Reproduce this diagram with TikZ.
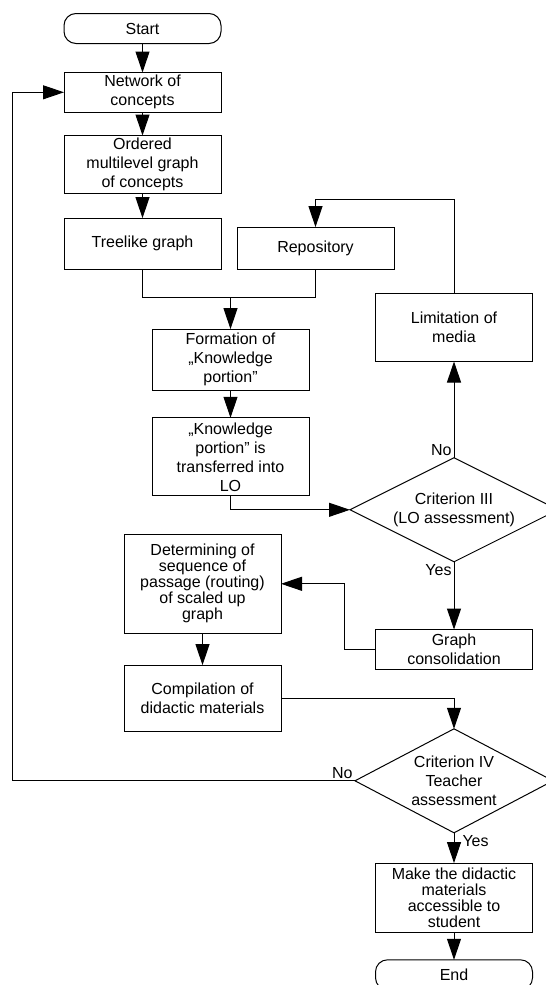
\documentclass[tikz,border=0pt]{standalone}
\usepackage{fontspec}
\setmainfont{Liberation Sans}
\usetikzlibrary{shapes.geometric, arrows.meta, positioning}

\begin{document}
\begin{tikzpicture}[
                x=1pt, y=1pt,
                node distance=25pt,
                box/.style={rectangle, draw=black, line width=1pt, minimum width=157pt, inner sep=1pt, outer sep=0pt, align=center, font=\fontsize{16}{19}\selectfont},
                tight/.style={font=\fontsize{16}{16}\selectfont},
                term/.style={box, rounded corners=12pt, minimum height=30pt},
                decision/.style={diamond, draw=black, line width=1pt, aspect=2, inner sep=0pt, outer sep=0pt, minimum height=104pt, align=center, font=\fontsize{16}{19}\selectfont},
                arrow/.style={-{Triangle[length=21pt, width=14pt]}, line width=1pt},
                tag/.style={inner sep=2pt, font=\fontsize{16}{19}\selectfont}
            ]
                \useasboundingbox (0,0) rectangle (546,-985);
                \clip (0,0) rectangle (546,-985);

                \node[term] (start) at (142.5,-28.5) {Start};
                \node[box, minimum height=39.6pt, below=29pt of start] (p1) {Network of\\concepts};
                \node[box, minimum height=57.6pt, below=23.4pt of p1] (p2) {Ordered\\multilevel graph\\of concepts};
                \node[box, minimum height=51pt, below=25pt of p2] (p3) {Treelike graph};
                \node[box, minimum height=42pt, right=16pt of p3.south east, anchor=south west] (p4) {Repository};
                \node[box, minimum height=61.4pt, below=60pt of p3, xshift=88pt] (p5) {Formation of\\„Knowledge\\portion"};
                \node[box, minimum height=78pt, below=27.3pt of p5] (p6) {„Knowledge\\portion" is\\transferred into\\LO};
                \node[decision, minimum width=208pt, right=41pt of p6.south east, anchor=west, yshift=-14pt] (d1) {Criterion III\\(LO assessment)};
                \node[box, minimum height=68.4pt, above=96.3pt of d1] (p7) {Limitation of\\media};
                \node[box, tight, minimum height=98.6pt, below=38.7pt of p6, xshift=-28pt] (p8) {Determining of\\sequence of\\passage (routing)\\of scaled up\\graph};
                \node[box, minimum height=39.6pt, below=67.7pt of d1] (p9) {Graph\\consolidation};
                \node[box, minimum height=66.7pt, below=32pt of p8] (p10) {Compilation of\\didactic materials};
                \node[decision, minimum width=198pt, below=59.7pt of p9] (d2) {Criterion IV\\Teacher\\assessment};
                \node[box, tight, minimum height=69.4pt, below=30.3pt of d2] (p11) {Make the didactic\\materials\\accessible to\\student};
                \node[term, below=27.3pt of p11] (stop) {End};

                \coordinate[above=32pt of p5.north] (j);
                \coordinate[above=28pt of p4.north] (r);

                \draw[arrow] (start) -- (p1);
                \draw[arrow] (p1) -- (p2);
                \draw[arrow] (p2) -- (p3);
                \draw[line width=1pt] (p3.south) |- (j) -| (p4.south);
                \draw[arrow] (j) -- (p5);
                \draw[arrow] (p5) -- (p6);
                \draw[arrow] (p6.south) |- (d1.west);
                \draw[arrow] (d1.north) -- node[tag, pos=0, anchor=south east] {No} (p7.south);
                \draw[arrow] (p7.north) |- (r) -- (p4.north);
                \draw[arrow] (d1.south) -- node[tag, pos=0, anchor=north east] {Yes} (p9.north);
                \draw[arrow] (p9.west) -- ++(-30.8,0) |- (p8.east);
                \draw[arrow] (p8) -- (p10);
                \draw[arrow] (p10.east) -| (d2.north);
                \draw[arrow] (d2.west) -- node[tag, pos=0, anchor=south east] {No} ++(-342.5,0) |- (p1.west);
                \draw[arrow] (d2.south) -- node[tag, pos=0, anchor=north west, xshift=6pt] {Yes} (p11.north);
                \draw[arrow] (p11) -- (stop);
            \end{tikzpicture}
\end{document}
